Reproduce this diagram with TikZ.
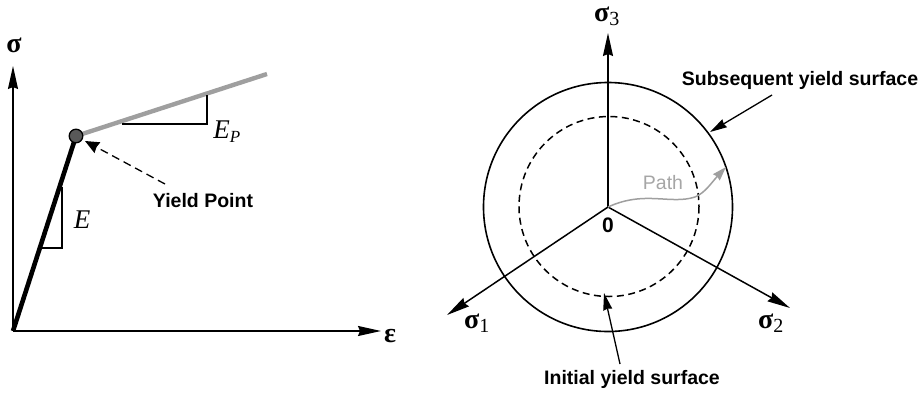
\documentclass[tikz,border=0pt]{standalone}
\usepackage{fontspec}
\setmainfont{Liberation Serif}
\newfontfamily\hv{Liberation Sans}
\usetikzlibrary{arrows.meta}
\begin{document}
\begin{tikzpicture}[x=1pt,y=-1pt,
  axis/.style={line width=1.5pt,-{Stealth[length=23pt,width=10pt,inset=2pt]}},
  thin/.style={line width=1.4pt},
  lbl/.style={font=\hv\bfseries\fontsize{19.5}{22}\selectfont,inner sep=0pt},
  greek/.style={font=\bfseries\fontsize{28}{30}\selectfont,inner sep=0pt,text height=13pt,text depth=6pt},
  sym/.style={font=\itshape\fontsize{27}{29}\selectfont,inner sep=0pt},
  pointer/.style={line width=1.3pt,-{Stealth[length=17pt,width=9pt,inset=1pt]}}]
\useasboundingbox (0,0) rectangle (923,392);
% ---------- left: stress-strain ----------
\coordinate (o) at (13,331);
\coordinate (ytop) at (13,66);
\coordinate (xend) at (381,331);
\coordinate (yp) at (76,136);
\coordinate (gend) at (267,74);
\draw[axis] (o) -- (ytop);
\draw[axis] (o) -- (xend);
\node[greek,anchor=base] (sig) at (14,52) {σ};
\node[greek,anchor=base] (eps) at (390,342) {ε};
\draw[line width=4.6pt] (o) -- (yp);
\draw[line width=4.4pt,gray!75] (yp) -- (gend);
\draw[fill=black!65,line width=1.3pt] (yp) circle (6.8);
% triangles
\draw[thin] (122,124) -- (207,124) -- (207,95);
\draw[thin] (42,248) -- (62,248) -- (62,187);
\node[sym] (E) at (82,220) {E};
\node[sym] (EP) at (227,132) {E\textsubscript{\fontsize{17}{19}\selectfont P}};
\node[lbl] (ypt) at (203,201) {Yield Point};
\coordinate (dstart) at (165,184);
\coordinate (dend) at (85,141);
\draw[line width=1.3pt,dash pattern=on 8pt off 5pt,-{Stealth[length=14pt,width=12pt,inset=1pt]}] (dstart) -- (dend);
% ---------- right: pi-plane ----------
\coordinate (O) at (608,207);
\draw[line width=1.6pt] (O) circle (124.5);
\draw[line width=1.5pt,dash pattern=on 7pt off 4.5pt] (609,206.5) circle (90);
\coordinate (s3) at (608,33);
\coordinate (s1) at (447,315);
\coordinate (s2) at (790,308);
\draw[axis] (O) -- (s3);
\draw[axis] (O) -- (s1);
\draw[axis] (O) -- (s2);
\node[greek,anchor=base] (l3) at (607,21) {σ\textsubscript{\mdseries\fontsize{20}{22}\selectfont 3}};
\node[greek,anchor=base] (l1) at (477,328) {σ\textsubscript{\mdseries\fontsize{20}{22}\selectfont 1}};
\node[greek,anchor=base] (l2) at (771,328) {σ\textsubscript{\mdseries\fontsize{20}{22}\selectfont 2}};
\node[lbl,font=\hv\bfseries\fontsize{21}{23}\selectfont] (zero) at (608,225) {0};
\coordinate (pend) at (726,167);
\draw[gray!75,line width=1.5pt,-{Stealth[length=14pt,width=9pt,inset=1pt]}] (O) .. controls (645,190) and (670,205) .. (695,197) .. controls (705,193) and (712,182) .. (pend);
\node[lbl,font=\hv\fontsize{19.5}{22}\selectfont,text=gray!70] (path) at (663,183) {Path};
\node[lbl] (sub) at (800,80) {Subsequent yield surface};
\node[lbl] (ini) at (632,379) {Initial yield surface};
\coordinate (subt) at (710,132);
\coordinate (subs) at (772,95);
\draw[pointer] (subs) -- (subt);
\coordinate (init) at (604,293);
\coordinate (inis) at (620,364);
\draw[pointer] (inis) -- (init);
\end{tikzpicture}
\end{document}
